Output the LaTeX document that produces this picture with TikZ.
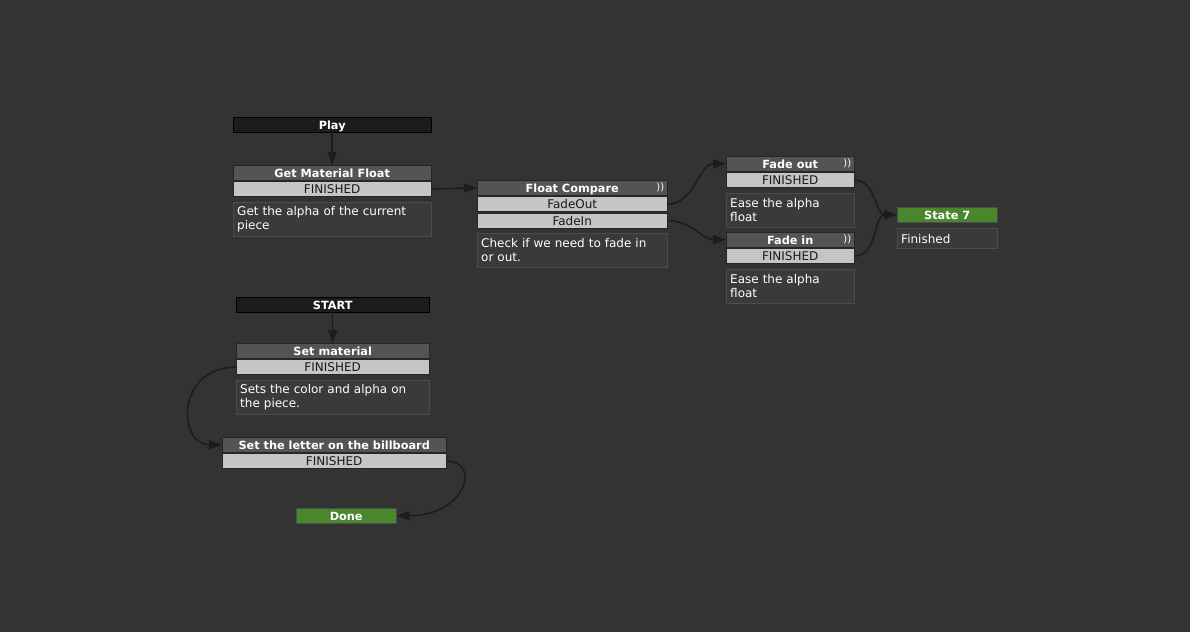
\documentclass[tikz,border=0pt]{standalone}
\usepackage{fontspec}
\setmainfont{DejaVu Sans}
\usetikzlibrary{positioning,arrows.meta}
\definecolor{canvas}{RGB}{51,51,51}
\definecolor{hdrgray}{RGB}{84,84,84}
\definecolor{rowgray}{RGB}{197,197,197}
\definecolor{notefill}{RGB}{58,58,58}
\definecolor{noteline}{RGB}{76,76,76}
\definecolor{startfill}{RGB}{28,28,28}
\definecolor{donegreen}{RGB}{74,134,44}
\definecolor{wire}{RGB}{28,28,28}

\begin{document}
\begin{tikzpicture}[x=1pt, y=-1pt,
    hdr/.style={rectangle, draw=black!85, fill=hdrgray, text=white, anchor=north west,
                font=\bfseries\fontsize{11.3}{12}\selectfont, minimum height=15pt, inner sep=0pt,
                text height=9.5pt, text depth=0.5pt},
    row/.style={rectangle, draw=black!85, fill=rowgray, text=black!90,
                font=\fontsize{12}{12}\selectfont, minimum height=15pt, inner sep=0pt,
                text height=9.5pt, text depth=0.5pt},
    note/.style={rectangle, draw=noteline, fill=notefill, text=white!88, align=left,
                 font=\fontsize{12}{14}\selectfont, inner xsep=4pt, inner ysep=2pt},
    entry/.style={hdr, fill=startfill, draw=black},
    final/.style={hdr, fill=donegreen, draw=black!70},
    wave/.style={text=white!70, font=\fontsize{10}{10}\selectfont, inner sep=0pt},
    wire/.style={draw=wire, line width=1.5pt, -{Triangle[length=13pt,width=9pt]}}
]
    \useasboundingbox[fill=canvas] (0,0) rectangle (1190,632);

    % first chain
    \node[entry, minimum width=198pt] (play) at (233,117) {Play};
    \node[hdr, minimum width=198pt] (gmf) at (233,165) {Get Material Float};
    \node[row, minimum width=198pt, below=1pt of gmf] (gmfF) {FINISHED};
    \node[note, text width=190pt, minimum height=34pt, below=5pt of gmfF] (gmfN)
        {Get the alpha of the current\\piece};

    \node[hdr, minimum width=190pt] (fc) at (477,180) {Float Compare};
    \node[wave, left=3pt of fc.east] (fcW) {))};
    \node[row, minimum width=190pt, below=1pt of fc] (fcOut) {FadeOut};
    \node[row, minimum width=190pt, below=1pt of fcOut] (fcIn) {FadeIn};
    \node[note, text width=182pt, minimum height=34pt, below=5pt of fcIn] (fcN)
        {Check if we need to fade in\\or out.};

    \node[hdr, minimum width=128pt] (fo) at (726,156) {Fade out};
    \node[wave, left=3pt of fo.east] (foW) {))};
    \node[row, minimum width=128pt, below=1pt of fo] (foF) {FINISHED};
    \node[note, text width=120pt, minimum height=34pt, below=5pt of foF] (foN)
        {Ease the alpha\\float};

    \node[hdr, minimum width=128pt] (fi) at (726,232) {Fade in};
    \node[wave, left=3pt of fi.east] (fiW) {))};
    \node[row, minimum width=128pt, below=1pt of fi] (fiF) {FINISHED};
    \node[note, text width=120pt, minimum height=34pt, below=5pt of fiF] (fiN)
        {Ease the alpha\\float};

    \node[final, minimum width=100pt] (s7) at (897,207) {State 7};
    \node[note, text width=92pt, minimum height=20pt, below=6pt of s7] (s7N) {Finished};

    % second chain
    \node[entry, minimum width=193pt] (start) at (236,297) {START};
    \node[hdr, minimum width=193pt] (sm) at (236,343) {Set material};
    \node[row, minimum width=193pt, below=1pt of sm] (smF) {FINISHED};
    \node[note, text width=185pt, minimum height=34pt, below=5pt of smF] (smN)
        {Sets the color and alpha on\\the piece.};

    \node[hdr, minimum width=224pt] (sl) at (222,437) {Set the letter on the billboard};
    \node[row, minimum width=224pt, below=1pt of sl] (slF) {FINISHED};

    \node[final, minimum width=100pt] (done) at (296,508) {Done};

    % transitions
    \draw[wire] (play) -- (gmf);
    \draw[wire] (gmfF.east) -- (fc.west);
    \draw[wire] (fcOut.east) to[out=0, in=180] (fo.west);
    \draw[wire] (fcIn.east) to[out=0, in=180] (fi.west);
    \draw[wire] (foF.east) to[out=0, in=180] (s7.west);
    \draw[wire] (fiF.east) to[out=0, in=180] (s7.west);
    \draw[wire] (start) -- (sm);
    \draw[wire] (smF.west) .. controls +(-60,0) and +(-45,0) .. (sl.west);
    \draw[wire] (slF.east) .. controls +(35,0) and +(70,0) .. (done.east);
\end{tikzpicture}
\end{document}
